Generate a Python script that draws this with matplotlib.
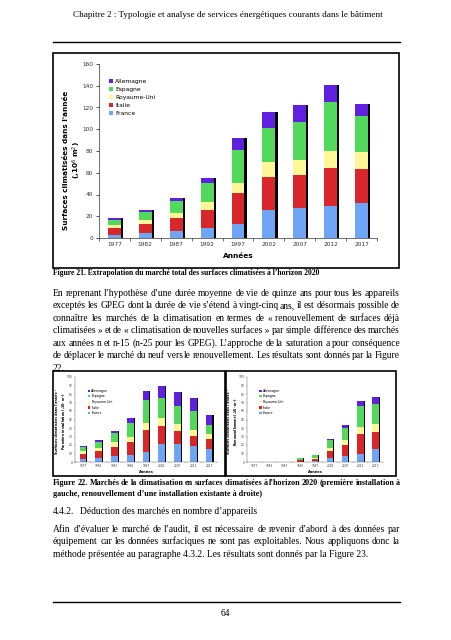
import matplotlib
matplotlib.use("Agg")
import matplotlib.pyplot as plt
import numpy as np
from matplotlib.lines import Line2D
from matplotlib.patches import Rectangle

W, H = 452, 640

years = ["1977", "1982", "1987", "1992", "1997", "2002", "2007", "2012", "2017"]
countries = ["France", "Italie", "Royaume-Uni", "Espagne", "Allemagne"]
colors = ["#6ea6f5", "#d9262b", "#fff696", "#52d85a", "#6020e0"]

# Figure 21 : marché total (10^6 m2), segments empilés
total_france = [3, 5, 6.5, 9, 13, 26, 28, 29, 32]
total_italie = [6.5, 8, 11.5, 17, 28, 30, 30, 35, 31]
total_ru = [2.5, 4, 5, 7, 10, 14, 13.5, 16, 16]
total_espagne = [5, 7, 11, 18, 30, 31, 35.5, 45, 33]
total_allemagne = [1, 1.5, 3, 4.5, 10.5, 14.5, 15, 15.5, 11]

# Figure 22 gauche : première installation
first_france = [3.5, 5, 6.5, 8, 12, 21.5, 21.5, 19, 15.5]
first_italie = [6.5, 8, 11.5, 15.5, 26, 21, 14.5, 11.5, 12]
first_ru = [2.5, 3, 5, 6, 7.5, 9, 8.5, 7, 5.5]
first_espagne = [5, 7.5, 11, 16.5, 27.5, 23.5, 21.5, 22.5, 10.5]
first_allemagne = [1.2, 2, 3, 5.5, 11, 14, 16, 15, 12]

# Figure 22 droite : renouvellement
renew_france = [0, 0, 0, 0.5, 1, 5, 7, 10, 15.5]
renew_italie = [0, 0, 0, 1.5, 2.5, 8.5, 13, 23, 20]
renew_ru = [0, 0, 0, 0.5, 1.5, 3.5, 5.5, 8.5, 9.5]
renew_espagne = [0, 0, 0, 2, 3, 8.5, 14.5, 24.5, 23.5]
renew_allemagne = [0, 0, 0, 0.5, 0.5, 1.5, 3.5, 6, 8.5]

header = "Chapitre 2 : Typologie et analyse de services énergétiques courants dans le bâtiment"
caption21 = "Figure 21. Extrapolation du marché total des surfaces climatisées à l’horizon 2020"
para1 = [
    "En reprenant l’hypothèse d’une durée moyenne de vie de quinze ans pour tous les appareils",
    "exceptés les GPEG dont la durée de vie s’étend à vingt-cinq ans, il est désormais possible de",
    "connaître les marchés de la climatisation en termes de «\u00a0renouvellement de surfaces déjà",
    "climatisées\u00a0» et de «\u00a0climatisation de nouvelles surfaces\u00a0» par simple différence des marchés",
    "aux années n et n-15 (n-25 pour les GPEG). L’approche de la saturation a pour conséquence",
    "de déplacer le marché du neuf vers le renouvellement. Les résultats sont donnés par la Figure",
    "22.",
]
caption22 = [
    "Figure 22. Marchés de la climatisation en surfaces climatisées à l’horizon 2020 (première installation à",
    "gauche, renouvellement d’une installation existante à droite)",
]
para2 = [
    "Afin d’évaluer le marché de l’audit, il est nécessaire de revenir d’abord à des données par",
    "équipement car les données surfaciques ne sont pas exploitables. Nous appliquons donc la",
    "méthode présentée au paragraphe 4.3.2. Les résultats sont donnés par la Figure 23.",
]

fig = plt.figure(figsize=(W / 100, H / 100), dpi=100)
renderer = fig.canvas.get_renderer()


def fx(px):
    return px / W


def fy(py):
    return 1 - py / H


def px_axes(x0, y0, x1, y1):
    return fig.add_axes([fx(x0), fy(y1), (x1 - x0) / W, (y1 - y0) / H])


def box(x0, y0, x1, y1, lw=1.2):
    fig.add_artist(Rectangle((fx(x0), fy(y1)), (x1 - x0) / W, (y1 - y0) / H,
                             transform=fig.transFigure, fill=False, ec="black", lw=lw))


def hrule(x0, x1, y, lw=1.0):
    fig.add_artist(Line2D([fx(x0), fx(x1)], [fy(y), fy(y)], transform=fig.transFigure,
                          color="black", lw=lw))


def justified(lines, x0, x1, y0, dy, **kw):
    """Write lines justified between x0 and x1 (last line left aligned)."""
    for i, line in enumerate(lines):
        y = y0 + i * dy
        words = line.split(" ")
        if i == len(lines) - 1 or len(words) == 1:
            fig.text(fx(x0), fy(y), line, va="center", **kw)
            continue
        widths = []
        for word in words:
            t = fig.text(0, 0, word, **kw)
            widths.append(t.get_window_extent(renderer).width)
            t.remove()
        gap = (x1 - x0 - sum(widths)) / (len(words) - 1)
        x = x0
        for word, wd in zip(words, widths):
            fig.text(fx(x), fy(y), word, va="center", **kw)
            x += wd + gap


def stacked(ax, series, ymax, ystep, width, shadow_dx, fs, lw):
    x = np.arange(len(years))
    series = np.asarray(series, dtype=float)
    ax.bar(x + shadow_dx, series.sum(axis=0), width, color="black", zorder=1)
    bottom = np.zeros(len(years))
    for name, vals, col in zip(countries, series, colors):
        ax.bar(x, vals, width, bottom=bottom, color=col, label=name, zorder=2)
        bottom += vals
    ax.set_xlim(-0.5, len(years) - 0.5)
    ax.set_ylim(0, ymax)
    ax.set_yticks(np.arange(0, ymax + 1, ystep))
    ax.set_xticks(x, years)
    ax.set_xticks(np.arange(-0.5, len(years), 1), minor=True)
    ax.tick_params(axis="x", which="major", length=0, labelsize=fs, pad=3 * lw, colors="#333333")
    ax.tick_params(axis="x", which="minor", length=2 * lw, width=lw * 0.6, color="#555555")
    ax.tick_params(axis="y", length=2 * lw, width=lw * 0.6, labelsize=fs, pad=2 * lw,
                   colors="#333333")
    for side in ("top", "right"):
        ax.spines[side].set_visible(False)
    for side in ("left", "bottom"):
        ax.spines[side].set_linewidth(lw * 0.6)
        ax.spines[side].set_color("#555555")
    handles, labels = ax.get_legend_handles_labels()
    return handles[::-1], labels[::-1]


# header
fig.text(fx(228), fy(15), header, ha="center", va="center", family="Liberation Serif", fontsize=6.6)
hrule(53, 400, 42)

# Figure 21
box(53, 53, 399, 268)
ax = px_axes(99, 64, 377, 238)
h, l = stacked(ax, [total_france, total_italie, total_ru, total_espagne, total_allemagne],
               160, 20, 0.42, 0.07, 4.2, 1.0)
ax.legend(h, l, loc="upper left", bbox_to_anchor=(0.025, 0.93), frameon=False, fontsize=4.3,
          handlelength=0.7, handleheight=0.7, handletextpad=0.3, labelspacing=0.45,
          borderpad=0)
ax.set_xlabel("Années", fontsize=5.3, fontweight="bold", labelpad=4)
fig.text(fx(73), fy(160), "Surfaces climatisées dans l'année\n(,10$^6$ m$^2$)", rotation=90,
         ha="center", va="center", fontsize=5.2, fontweight="bold", linespacing=1.15)

fig.text(fx(53), fy(273), caption21, va="center", family="Liberation Serif", fontsize=5.5,
         fontweight="bold")

justified(para1, 53, 400, 293, 12.6, family="Liberation Serif", fontsize=6.85)

# Figure 22
box(53, 371, 225, 476)
box(226, 371, 396, 476)
for (x0, x1), data, ylab in [
    ((75, 217), [first_france, first_italie, first_ru, first_espagne, first_allemagne],
     "Surfaces climatisées dans l'année -\nPremière installation (,10$^6$ m$^2$)"),
    ((247, 383), [renew_france, renew_italie, renew_ru, renew_espagne, renew_allemagne],
     "Surfaces climatisées dans l'année -\nRenouvellement (,10$^6$ m$^2$)"),
]:
    axs = px_axes(x0, 377, x1, 462)
    h, l = stacked(axs, data, 100, 10, 0.42, 0.07, 2.1, 0.5)
    axs.legend(h, l, loc="upper left", bbox_to_anchor=(0.08, 0.88), frameon=False, fontsize=2.3,
               handlelength=0.7, handleheight=0.7, handletextpad=0.3, labelspacing=0.5,
               borderpad=0)
    axs.set_xlabel("Années", fontsize=2.6, fontweight="bold", labelpad=1.5)
    fig.text(fx(x0 - 14), fy(421), ylab, rotation=90, ha="center", va="center", fontsize=2.3,
             fontweight="bold", linespacing=1.15)

justified(caption22, 53, 400, 483, 11, family="Liberation Serif", fontsize=5.85, fontweight="bold")

fig.text(fx(53), fy(512), "4.4.2.", va="center", family="Liberation Serif", fontsize=6.85)
fig.text(fx(80), fy(512), "Déduction des marchés en nombre d’appareils", va="center",
         family="Liberation Serif", fontsize=6.85)
justified(para2, 53, 400, 529, 12.6, family="Liberation Serif", fontsize=6.85)

hrule(53, 400, 602)
fig.text(fx(225), fy(614), "64", ha="center", va="center", family="Liberation Serif", fontsize=6.85)

fig.savefig("out.png", dpi=100, facecolor="white")
